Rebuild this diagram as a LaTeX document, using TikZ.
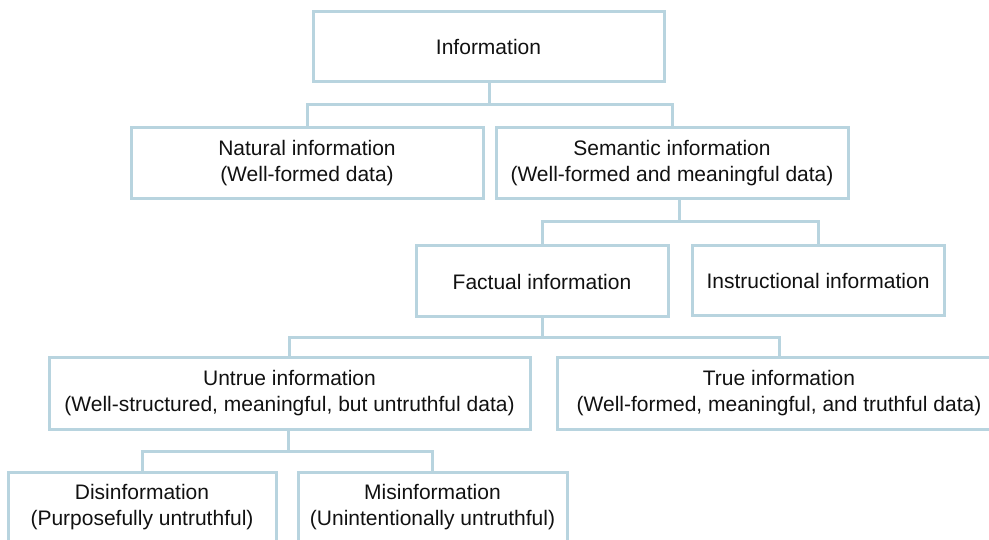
\documentclass[tikz,border=0pt]{standalone}
\usepackage{fontspec}
\setmainfont{Liberation Sans}
\definecolor{boxline}{RGB}{184,212,223}
\definecolor{ink}{RGB}{17,17,17}
\tikzset{
  box/.style={draw=boxline, line width=3pt, rectangle, inner sep=2pt,
    align=center, text=ink, font=\fontsize{21}{26}\selectfont},
  conn/.style={draw=boxline, line width=3pt}
}
\begin{document}
\begin{tikzpicture}[x=1pt, y=-1pt]
\useasboundingbox (0,0) rectangle (989,540);
\clip (0,0) rectangle (989,540);

% level 0
\node[box, minimum width=351pt, minimum height=70pt] (info) at (488.5,47) {Information};

% level 1
\node[box, minimum width=352pt, minimum height=71pt] (natural) at (307,163.5)
  {Natural information\\(Well-formed data)};
\node[box, minimum width=352pt, minimum height=71pt] (semantic) at (672,163.5)
  {Semantic information\\(Well-formed and meaningful data)};

% level 2
\node[box, minimum width=252pt, minimum height=71pt] (factual) at (542,281.5)
  {Factual information};
\node[box, minimum width=252pt, minimum height=70pt] (instr) at (818,281)
  {Instructional information};

% level 3
\node[box, minimum width=481pt, minimum height=71pt] (untrue) at (289.5,393.5)
  {Untrue information\\(Well-structured, meaningful, but untruthful data)};
\node[box, minimum width=444pt, minimum height=71pt] (true) at (779,393.5)
  {True information\\(Well-formed, meaningful, and truthful data)};

% level 4
\node[box, minimum width=268pt, minimum height=70pt] (disinfo) at (142,507)
  {Disinformation\\(Purposefully untruthful)};
\node[box, minimum width=269pt, minimum height=70pt] (misinfo) at (432.5,507)
  {Misinformation\\(Unintentionally untruthful)};

% branch points
\coordinate (j1) at (489,105);
\coordinate (j2) at (679,222);
\coordinate (j3) at (542,338);
\coordinate (j4) at (288,451);

% connectors
\draw[conn] (j1 |- info.south) -- (j1);
\draw[conn] (natural.north) |- (j1);
\draw[conn] (semantic.north) |- (j1);

\draw[conn] (j2 |- semantic.south) -- (j2);
\draw[conn] (factual.north) |- (j2);
\draw[conn] (instr.north) |- (j2);

\draw[conn] (factual.south) -- (j3);
\draw[conn] (untrue.north) |- (j3);
\draw[conn] (true.north) |- (j3);

\draw[conn] (j4 |- untrue.south) -- (j4);
\draw[conn] (disinfo.north) |- (j4);
\draw[conn] (misinfo.north) |- (j4);
\end{tikzpicture}
\end{document}
